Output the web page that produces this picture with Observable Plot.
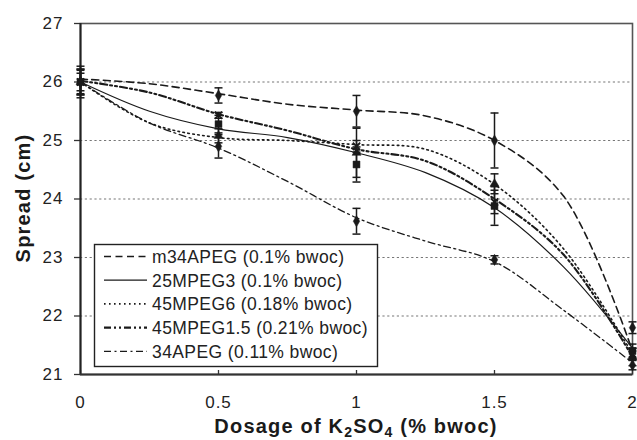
<!DOCTYPE html>
<html>
<head>
<meta charset="utf-8">
<script src="https://cdn.jsdelivr.net/npm/d3@7"></script>
<script src="https://cdn.jsdelivr.net/npm/@observablehq/plot@0.6"></script>
<style>
  body { margin: 0; background: #fff; }
  #chart svg { display: block; }
</style>
</head>
<body>
<div id="chart"></div>
<script>
// Spread of cement paste vs. K2SO4 dosage for five superplasticizers
const seriesNames = [
  "m34APEG (0.1% bwoc)",
  "25MPEG3 (0.1% bwoc)",
  "45MPEG6 (0.18% bwoc)",
  "45MPEG1.5 (0.21% bwoc)",
  "34APEG (0.11% bwoc)"
];

// measured points (cm) with error half-widths
const dosage = [0, 0.5, 1, 1.5, 2];
const spreadM34APEG = [26.0, 25.77, 25.5, 25.0, 21.8];
const spread25MPEG3 = [26.0, 25.28, 24.59, 23.88, 21.4];
const spread45MPEG6 = [26.0, 25.08, 24.79, 24.26, 21.3];
const spread45MPEG15 = [26.0, 25.43, 24.9, 23.95, 21.35];
const spread34APEG = [26.0, 24.9, 23.62, 22.96, 21.16];

const errM34APEG = [0.27, 0.13, 0.27, 0.47, 0.1];
const err25MPEG3 = [0.22, 0.15, 0.3, 0.33, 0.12];
const err45MPEG6 = [0.2, 0.12, 0.42, 0.17, 0.15];
const err45MPEG15 = [0.15, 0.05, 0.1, 0.2, 0.1];
const err34APEG = [0.22, 0.2, 0.22, 0.07, 0.08];

// smoothed trend curves
const fitDosage = [0, 0.25, 0.5, 0.75, 1, 1.25, 1.5, 1.75, 2];
const fitM34APEG = [26.05, 25.97, 25.8, 25.62, 25.52, 25.42, 25.0, 24.05, 21.4];
const fit25MPEG3 = [26.0, 25.5, 25.2, 25.05, 24.79, 24.45, 23.85, 22.84, 21.45];
const fit45MPEG6 = [26.0, 25.3, 25.05, 25.0, 24.93, 24.85, 24.25, 23.15, 21.35];
const fit45MPEG15 = [26.02, 25.82, 25.45, 25.17, 24.85, 24.65, 24.0, 23.05, 21.3];
const fit34APEG = [26.0, 25.3, 24.87, 24.3, 23.68, 23.28, 22.93, 22.1, 21.2];

const xTicks = [0, 0.5, 1, 1.5, 2];
const yTicks = [21, 22, 23, 24, 25, 26, 27];
const gridValues = [22, 23, 24, 25, 26];

// drawing styles, one per series
const styles = [
  { dash: "7,4.5", width: 1.6, symbol: "diamond", r: 3.4 },
  { dash: null, width: 1.2, symbol: "square", r: 3.9 },
  { dash: "1.6,3.4", width: 1.6, symbol: "triangle", r: 3.3 },
  { dash: "7,3,2,3,2,3", width: 2.1, symbol: "times", r: 3.4 },
  { dash: "7,3.5,2,3.5", width: 1.3, symbol: "diamond", r: 3.4 }
];

const means = [spreadM34APEG, spread25MPEG3, spread45MPEG6, spread45MPEG15, spread34APEG];
const errs = [errM34APEG, err25MPEG3, err45MPEG6, err45MPEG15, err34APEG];
const fits = [fitM34APEG, fit25MPEG3, fit45MPEG6, fit45MPEG15, fit34APEG];

const points = seriesNames.flatMap((name, i) =>
  dosage.map((x, j) => ({ series: name, idx: i, x, y: means[i][j], e: errs[i][j] })));
const caps = points.flatMap(d => [{ x: d.x, y: d.y + d.e }, { x: d.x, y: d.y - d.e }]);
const curves = seriesNames.map((name, i) =>
  fitDosage.map((x, j) => ({ series: name, x, y: fits[i][j] })));

// short horizontal bar used for error-bar caps
const capSymbol = {
  draw(context, size) {
    const h = Math.sqrt(size / Math.PI);
    context.moveTo(-h, 0);
    context.lineTo(h, 0);
  }
};

const ink = "#1a1a1a";

const chart = Plot.plot({
  width: 637,
  height: 440,
  marginLeft: 80,
  marginRight: 5,
  marginTop: 23,
  marginBottom: 66,
  style: {
    fontFamily: "'Liberation Sans', Arial, sans-serif",
    fontSize: "17px",
    letterSpacing: "1px",
    color: "#222",
    background: "#fff"
  },
  x: { domain: [0, 2] },
  y: { domain: [21, 27] },
  marks: [
    Plot.ruleY(gridValues, { stroke: "#777", strokeWidth: 1.2, strokeDasharray: "2.2,2.6" }),
    Plot.frame({ stroke: "#555", strokeWidth: 1.6 }),
    Plot.axisY({ ticks: yTicks, tickSize: 6, tickPadding: 11, label: null, stroke: "#333", strokeWidth: 1.3, tickFormat: d => String(d) }),
    Plot.axisX({ ticks: xTicks, tickSize: 0, tickPadding: 21, label: null, tickFormat: d => String(d) }),
    Plot.ruleX(xTicks, { y1: yTicks[0], y2: yTicks[0], insetTop: -4, stroke: "#333", strokeWidth: 1.3 }),
    Plot.ruleX([xTicks[0]], { stroke: "#222", strokeWidth: 2 }),
    Plot.ruleY([yTicks[0]], { stroke: "#333", strokeWidth: 1.8 }),
    // error bars
    Plot.ruleX(points, { x: "x", y1: d => d.y - d.e, y2: d => d.y + d.e, stroke: ink, strokeWidth: 1.5 }),
    Plot.dot(caps, { x: "x", y: "y", symbol: capSymbol, r: 4, fill: "none", stroke: ink, strokeWidth: 1.5 }),
    // trend curves
    ...curves.map((rows, i) => Plot.line(rows, {
      x: "x", y: "y", curve: "catmull-rom",
      stroke: ink, strokeWidth: styles[i].width,
      strokeDasharray: styles[i].dash || undefined
    })),
    // measured points
    ...seriesNames.map((name, i) => Plot.dot(points.filter(d => d.idx === i), {
      x: "x", y: "y", symbol: styles[i].symbol, r: styles[i].r,
      fill: styles[i].symbol === "times" ? "none" : ink,
      stroke: ink, strokeWidth: styles[i].symbol === "times" ? 1.8 : 0.5
    }))
  ]
});

document.getElementById("chart").appendChild(chart);

const svg = d3.select(chart);
const fontStack = "'Liberation Sans', Arial, sans-serif";

// axis titles
const xTitle = svg.append("text")
  .attr("x", 356).attr("y", 433)
  .attr("text-anchor", "middle")
  .style("font-family", fontStack)
  .style("font-size", "20px").style("font-weight", "bold")
  .style("letter-spacing", "1.2px").attr("fill", "#1a1a1a");
xTitle.append("tspan").text("Dosage of K");
xTitle.append("tspan").attr("dy", 4).style("font-size", "14px").text("2");
xTitle.append("tspan").attr("dy", -4).text("SO");
xTitle.append("tspan").attr("dy", 4).style("font-size", "14px").text("4");
xTitle.append("tspan").attr("dy", -4).text(" (% bwoc)");

svg.append("text")
  .attr("transform", "translate(30,198) rotate(-90)")
  .attr("text-anchor", "middle")
  .style("font-family", fontStack)
  .style("font-size", "20px").style("font-weight", "bold")
  .style("letter-spacing", "1.2px").attr("fill", "#1a1a1a")
  .text("Spread (cm)");

// legend
const legend = svg.append("g").attr("text-anchor", "start");
legend.append("rect")
  .attr("x", 94.5).attr("y", 244.5).attr("width", 283).attr("height", 122)
  .attr("fill", "#fff").attr("stroke", "#222").attr("stroke-width", 1.4);
seriesNames.forEach((name, i) => {
  const cy = 256.5 + i * 23.7;
  legend.append("line")
    .attr("x1", 104).attr("x2", 147).attr("y1", cy).attr("y2", cy)
    .attr("stroke", ink).attr("stroke-width", styles[i].width)
    .attr("stroke-dasharray", styles[i].dash);
  legend.append("text")
    .attr("x", 152).attr("y", cy).attr("dy", "0.36em")
    .attr("text-anchor", "start")
    .style("font-family", fontStack)
    .style("font-size", "17.5px").style("letter-spacing", "0.4px")
    .attr("fill", "#222")
    .text(name);
});
</script>
</body>
</html>
